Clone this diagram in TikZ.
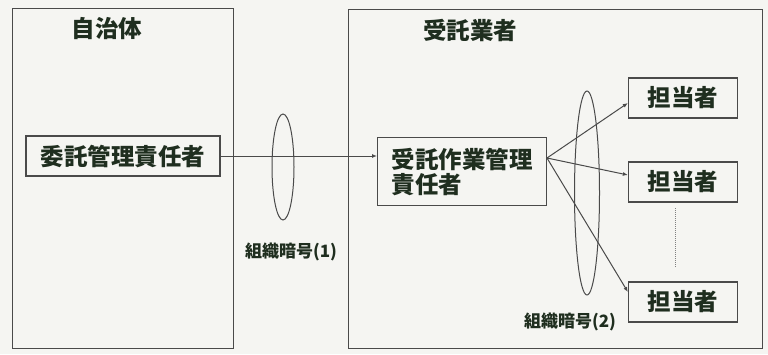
\documentclass[tikz,border=0pt]{standalone}
\usepackage{fontspec}
\newfontfamily\jp{Noto Sans CJK JP}
\usetikzlibrary{shapes.geometric,arrows.meta}
\definecolor{bg}{HTML}{F5F5F2}
\definecolor{linec}{HTML}{4A4A4A}
\definecolor{txt}{HTML}{1F2E1F}
\begin{document}
\begin{tikzpicture}[x=1pt,y=-1pt,
  frame/.style={draw=linec, line width=1.3pt, inner sep=0pt, anchor=north west},
  box/.style={draw=linec, line width=1.2pt, fill=bg, inner sep=0pt},
  lbl/.style={text=txt, font=\jp\bfseries\fontsize{23.5}{25}\selectfont},
  small/.style={text=txt, font=\jp\bfseries\fontsize{17}{19}\selectfont},
  lens/.style={draw=linec, line width=1pt, ellipse, inner sep=0pt},
  conn/.style={draw=linec, line width=1pt, -{Latex[length=5pt,width=4pt]}}]
\useasboundingbox[fill=bg] (0,0) rectangle (768,354);
% outer frames
\node[frame, minimum width=221, minimum height=340] (L) at (12,8) {};
\node[frame, minimum width=414, minimum height=339] (R) at (348,9) {};
\node[lbl] (tL) at (107,29) {自治体};
\node[lbl] (tR) at (470,30) {受託業者};
% boxes
\node[box, lbl, minimum width=194, minimum height=40] (A) at (123,156) {委託管理責任者};
\node[box, lbl, minimum width=169, minimum height=68, align=left, anchor=north west] (B) at (377,137) {受託作業管理\\責任者};
\node[box, lbl, minimum width=109, minimum height=40] (C1) at (683,98) {担当者};
\node[box, lbl, minimum width=109, minimum height=40] (C2) at (683,182) {担当者};
\node[box, lbl, minimum width=109, minimum height=40] (C3) at (683,302) {担当者};
% lenses
\node[lens, minimum width=22, minimum height=106] (E1) at (283,167) {};
\node[lens, minimum width=25, minimum height=204] (E2) at (587,193) {};
\node[small] (k1) at (291,252) {組織暗号(1)};
\node[small] (k2) at (570,322) {組織暗号(2)};
% connectors
\draw[conn] (A.east) -- (A.east -| B.west);
\coordinate (s) at (547,158);
\draw[conn] (s) -- ([yshift=-5pt]C1.west);
\draw[conn] (s) -- ([yshift=7pt]C2.west);
\draw[conn] (s) -- ([yshift=10pt]C3.west);
\coordinate (d1) at (675,208);
\coordinate (d2) at (675,267);
\draw[linec!70, line width=1pt, densely dotted] (d1) -- (d2);
\end{tikzpicture}
\end{document}
